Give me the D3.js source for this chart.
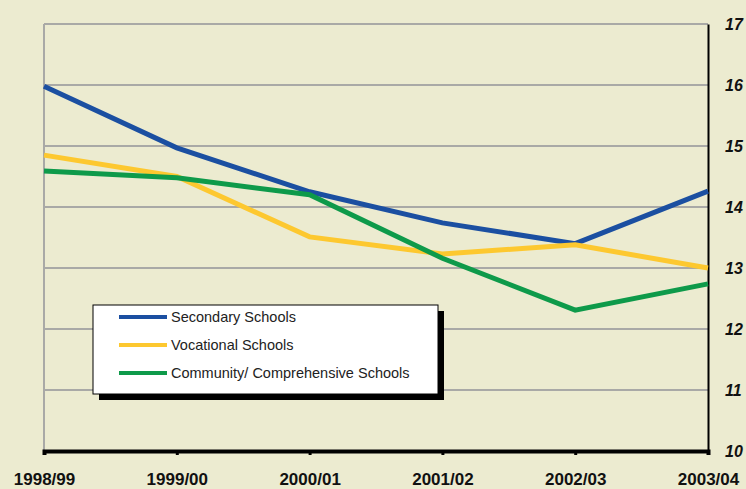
<!DOCTYPE html>
<html>
<head>
<meta charset="utf-8">
<script src="https://cdn.jsdelivr.net/npm/d3@7"></script>
<style>
  body { margin: 0; background: #ecebd0; }
  svg { display: block; font-family: "Liberation Sans", Arial, sans-serif; }
</style>
</head>
<body>
<div id="chart"></div>
<script>
// data
var years = ["1998/99", "1999/00", "2000/01", "2001/02", "2002/03", "2003/04"];
var secondary = [15.98, 14.97, 14.25, 13.74, 13.40, 14.26];
var vocational = [14.85, 14.50, 13.51, 13.23, 13.38, 13.00];
var community = [14.59, 14.48, 14.20, 13.16, 12.31, 12.74];
var yTicks = [10, 11, 12, 13, 14, 15, 16, 17];
var seriesNames = ["Secondary Schools", "Vocational Schools", "Community/ Comprehensive Schools"];
var seriesColors = ["#1b4fa1", "#fdc82f", "#0e9a4a"];

var W = 746, H = 489;
var margin = {top: 24, right: 38, bottom: 38, left: 44};
var width = W - margin.left - margin.right,
    height = H - margin.top - margin.bottom;

var svg = d3.select("#chart")
  .append("svg")
  .attr("width", W)
  .attr("height", H);

svg.append("rect").attr("width", W).attr("height", H).attr("fill", "#ecebd0");

var g = svg.append("g")
  .attr("transform", "translate(" + margin.left + "," + margin.top + ")");

var x = d3.scalePoint().domain(years).range([0, width]);
var y = d3.scaleLinear().domain([10, 17]).range([height, 0]);

// gridlines
g.append("g")
  .selectAll("line")
  .data(yTicks.filter(function(d) { return d > 10; }))
  .enter()
  .append("line")
  .attr("x1", 0).attr("x2", width)
  .attr("y1", function(d) { return y(d); })
  .attr("y2", function(d) { return y(d); })
  .attr("stroke", "#a9a9a6")
  .attr("stroke-width", 2);

// left gray axis line
g.append("line")
  .attr("x1", 0).attr("x2", 0)
  .attr("y1", y(17)).attr("y2", height)
  .attr("stroke", "#a9a9a6")
  .attr("stroke-width", 2);

// right axis
var yAxis = g.append("g")
  .attr("transform", "translate(" + width + ",0)")
  .call(d3.axisRight(y).tickValues(yTicks).tickSize(0).tickPadding(17).tickFormat(d3.format("d")));
yAxis.select(".domain").attr("stroke", "#000").attr("stroke-width", 2);
yAxis.selectAll("text")
  .attr("fill", "#111")
  .style("font-size", "16px")
  .style("font-weight", "bold")
  .style("font-style", "italic");

// bottom axis
var xAxis = g.append("g")
  .attr("transform", "translate(0," + height + ")")
  .call(d3.axisBottom(x).tickSize(4).tickPadding(18));
xAxis.select(".domain").attr("stroke", "#000").attr("stroke-width", 4);
xAxis.selectAll(".tick line").attr("stroke", "#000").attr("stroke-width", 3);
xAxis.selectAll("text")
  .attr("fill", "#111")
  .style("font-size", "17px")
  .style("font-weight", "bold");

// lines
var line = d3.line()
  .x(function(d, i) { return x(years[i]); })
  .y(function(d) { return y(d); });

[secondary, vocational, community].forEach(function(s, i) {
  g.append("path")
    .datum(s)
    .attr("fill", "none")
    .attr("stroke", seriesColors[i])
    .attr("stroke-width", 5)
    .attr("d", line);
});

// legend
var lg = svg.append("g").attr("transform", "translate(93,305)");
lg.append("rect")
  .attr("x", 6).attr("y", 6)
  .attr("width", 345).attr("height", 89)
  .attr("fill", "#000");
lg.append("rect")
  .attr("width", 345).attr("height", 89)
  .attr("fill", "#fff")
  .attr("stroke", "#000")
  .attr("stroke-width", 1);

seriesNames.forEach(function(name, i) {
  var row = lg.append("g").attr("transform", "translate(0," + (12 + i * 28) + ")");
  row.append("line")
    .attr("x1", 26).attr("x2", 74)
    .attr("y1", 0).attr("y2", 0)
    .attr("stroke", seriesColors[i])
    .attr("stroke-width", 4);
  row.append("text")
    .attr("x", 78).attr("y", 5)
    .attr("fill", "#222")
    .style("font-size", "14.5px")
    .text(name);
});
</script>
</body>
</html>
